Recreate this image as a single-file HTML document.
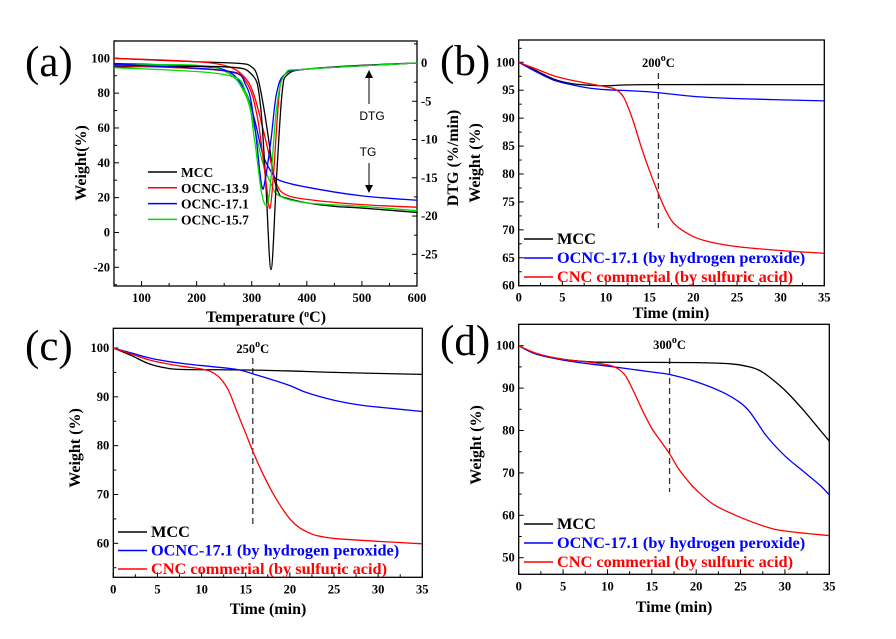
<!DOCTYPE html>
<html><head><meta charset="utf-8">
<style>
html,body{margin:0;padding:0;background:#fff;}
svg{display:block;font-family:"Liberation Serif",serif;}
.tk{font-weight:bold;font-size:12.5px;}
.tt{font-weight:bold;font-size:16px;}
.lg{font-weight:bold;font-size:13.5px;}
.lg2{font-weight:bold;font-size:16.3px;}
.pl{font-size:43px;}
</style></head>
<body>
<svg id="fig" width="896" height="639" viewBox="0 0 896 639" xmlns="http://www.w3.org/2000/svg"></svg>
<script>
// ---- Panel (a) data: temperature (°C) ----
const aMccTgX=[50,200,280,300,310,320,330,340,350,360,400,450,500,600];
const aMccTgY=[100,98,97,95,90,75,55,32,22,20,17,15,14,11.5];
const aR139TgX=[50,200,260,290,305,320,335,345,360,400,500,600];
const aR139TgY=[100,98,95,88,78,60,40,28,22,19,16,14.5];
const aB171TgX=[50,200,260,290,305,320,335,350,400,500,600];
const aB171TgY=[97,95.5,92,80,65,45,35,30,26,21,18.5];
const aG157TgX=[50,200,260,290,305,320,335,350,400,500,600];
const aG157TgY=[96,96,91,78,60,40,28,21,17,15,12.5];
const aMccDtgX=[50,250,300,315,325,335,345,355,365,400,500,600];
const aMccDtgY=[-0.5,-0.5,-1.5,-5,-15,-27,-15,-4,-1.5,-0.8,-0.3,0];
const aR139DtgX=[50,250,290,310,325,333,340,350,360,400,600];
const aR139DtgY=[-0.3,-1,-2.5,-7,-15,-19,-14,-4,-1.5,-0.8,0];
const aB171DtgX=[50,250,290,305,318,325,335,345,360,400,600];
const aB171DtgY=[-0.2,-1,-3,-8,-16,-15,-10,-4,-1.5,-0.8,0];
const aG157DtgX=[50,250,290,305,318,328,335,345,360,400,600];
const aG157DtgY=[-0.6,-1.5,-4,-10,-17,-18.5,-15,-6,-1.5,-0.8,0];
const aXTicks=[100,200,300,400,500,600];
const aYTicks=[-20,0,20,40,60,80,100];
const aY2Ticks=[-25,-20,-15,-10,-5,0];
const aLegend=["MCC","OCNC-13.9","OCNC-17.1","OCNC-15.7"];
// ---- Panel (b) data: time (min) ----
const bMccX=[0,2,4,6,8,10,15,35];
const bMccY=[100,98.5,97,96.2,95.9,95.8,96,96];
const bOcncX=[0,2,4,6,8,10,15,20,25,35];
const bOcncY=[100,98.3,96.8,96,95.4,95.1,94.7,93.9,93.5,93.1];
const bCncX=[0,2,4,6,8,10,11,12,13,14,15,16,17,18,20,22,25,30,35];
const bCncY=[100,98.8,97.6,96.8,96.2,95.6,95.2,93.8,90,85,80.5,76.5,73,70.8,68.8,67.8,67,66.3,65.8];
// ---- Panel (c) ----
const cMccX=[0,2,4,6,8,15,20,25,35];
const cMccY=[100,98.5,96.8,95.9,95.6,95.5,95.3,95,94.6];
const cOcncX=[0,2,4,6,8,10,14,16,18,20,22,25,28,30,35];
const cOcncY=[100,99,98,97.3,96.8,96.4,95.6,94.6,93.5,92.3,90.8,89.3,88.3,87.9,87];
const cCncX=[0,2,4,6,8,10,11,12,13,14,15,16,17,18,19,20,21,22,23,25,30,35];
const cCncY=[100,98.8,97.6,96.8,96.2,95.7,95.2,94,91.5,87,82.5,78,74,70.5,67.5,65,63.3,62.3,61.6,61,60.4,59.9];
// ---- Panel (d) ----
const dMccX=[0,2,5,8,10,20,24,26,27,28,30,32,34,35];
const dMccY=[100,98,96.8,96.2,96.1,96,95.7,95,94.3,93,89.5,85,80,77.5];
const dOcncX=[0,2,5,8,10,15,17,20,23,25,26,27,28,30,32,34,35];
const dOcncY=[100,98,96.6,95.7,95.2,93.8,93.2,91.5,89,86.5,84.5,81.5,78.5,74,70.5,67,64.8];
const dCncX=[0,2,5,8,10,11,12,13,14,15,16,17,18,19,20,22,25,28,30,35];
const dCncY=[100,98.2,96.8,96.1,95.5,94.8,93,89,84.5,80.5,77.5,74.5,71,68.3,66,62.5,59.5,57.2,56.3,55.2];
const timeTicks=[0,5,10,15,20,25,30,35];
const bYTicks=[60,65,70,75,80,85,90,95,100];
const cYTicks=[60,70,80,90,100];
const dYTicks=[50,60,70,80,90,100];
const tLegend=["MCC","OCNC-17.1 (by hydrogen peroxide)","CNC commerial (by sulfuric acid)"];

const svg=document.getElementById('fig');
const NS='http://www.w3.org/2000/svg';
function mk(tag,attrs,parent,text){
  const e=document.createElementNS(NS,tag);
  for(const k in attrs)e.setAttribute(k,attrs[k]);
  if(text!==undefined)e.textContent=text;
  (parent||svg).appendChild(e);return e;
}
function scale(d0,d1,r0,r1){return v=>r0+(v-d0)/(d1-d0)*(r1-r0);}
function smoothPath(xs,ys,sx,sy){
  const p=xs.map((x,i)=>[sx(x),sy(ys[i])]);
  let d='M'+p[0][0].toFixed(2)+','+p[0][1].toFixed(2);
  for(let i=0;i<p.length-1;i++){
    const p0=p[i-1]||p[i],p1=p[i],p2=p[i+1],p3=p[i+2]||p2;
    const c1=[p1[0]+(p2[0]-p0[0])/6,p1[1]+(p2[1]-p0[1])/6];
    const c2=[p2[0]-(p3[0]-p1[0])/6,p2[1]-(p3[1]-p1[1])/6];
    d+=' C'+c1[0].toFixed(2)+','+c1[1].toFixed(2)+' '+c2[0].toFixed(2)+','+c2[1].toFixed(2)+' '+p2[0].toFixed(2)+','+p2[1].toFixed(2);
  }
  return d;
}
function axes(g,L,R,T,B,sx,sy,xt,yt,name){
  const fr=mk('rect',{x:L,y:T,width:R-L,height:B-T,fill:'none',stroke:'#000','stroke-width':1.3},g);
  
  
  const xg=mk('g',{},g);
  
  
  const step=xt[1]-xt[0];
  for(let v=xt[0]-step/2;v<=xt[xt.length-1]+0.001;v+=step/2){
    const x=sx(v); if(x<L-0.5||x>R+0.5)continue;
    const major=xt.some(t=>Math.abs(t-v)<1e-6);
    mk('line',{x1:x,x2:x,y1:B,y2:B-(major?5:3),stroke:'#000','stroke-width':1},xg);
  }
  xt.forEach(v=>{const t=mk('text',{x:sx(v),y:B+16,'text-anchor':'middle',class:'tk'},xg,String(v));
    });
  const yg=mk('g',{},g);
  
  
  const ys=yt[1]-yt[0];
  for(let v=yt[0]-ys;v<=yt[yt.length-1]+ys;v+=ys/2){
    const y=sy(v); if(y<T-0.5||y>B+0.5)continue;
    const major=yt.some(t=>Math.abs(t-v)<1e-6);
    mk('line',{x1:L,x2:L+(major?5:3),y1:y,y2:y,stroke:'#000','stroke-width':1},yg);
  }
  yt.forEach(v=>{const t=mk('text',{x:L-4,y:sy(v)+4,'text-anchor':'end',class:'tk'},yg,String(v));
    });
}
function series(g,xs,ys,sx,sy,color,name,w){
  const p=mk('path',{d:smoothPath(xs,ys,sx,sy),fill:'none',stroke:color,'stroke-width':w||1.3},g);
  
  
}
function legend(g,x,y0,dy,labels,colors,colorText,name,cls){
  labels.forEach((lab,i)=>{
    const y=y0+i*dy;
    const le=mk('g',{},g);
    
    
    mk('line',{x1:x,x2:x+29,y1:y,y2:y,stroke:colors[i],'stroke-width':1.5},le);
    mk('text',{x:x+33,y:y+5,class:cls,fill:colorText?colors[i]:'#000'},le,lab);
  });
}
function label(txt,x,y,name){
  const t=mk('text',{x:x,y:y,class:'pl'},svg,txt);
  
}
function titleX(g,txt,x,y){const t=mk('text',{x:x,y:y,'text-anchor':'middle',class:'tt'},g,'');t.innerHTML=txt;
  }
function titleY(g,txt,x,y){const t=mk('text',{x:0,y:0,'text-anchor':'middle',class:'tt',transform:`translate(${x},${y}) rotate(-90)`},g,txt);
  }
function anno(g,txt,x,y){const t=mk('text',{x:x,y:y,'text-anchor':'middle',class:'tk','font-size':'15px'},g,'');
  t.innerHTML=txt.replace('o','<tspan dy="-6" font-size="10">o</tspan><tspan dy="6">')+'</tspan>';
  }
function dashed(g,x,y1,y2){const l=mk('line',{x1:x,x2:x,y1:y1,y2:y2,stroke:'#333','stroke-width':1.3,'stroke-dasharray':'6,4'},g);
  }

// ===== Panel a =====
{
  const g=mk('g',{});
  const L=114,R=417,T=41,B=286;
  const sx=scale(50,600,L,R), sy=scale(-20,100,267.3,58.3), sy2=scale(-25,0,254.3,63);
  axes(g,L,R,T,B,sx,sy,aXTicks,aYTicks,'panel-a');
  const rg=mk('g',{},g);
  for(let v=-30;v<=2.5;v+=2.5){const y=sy2(v);if(y<T||y>B)continue;
    const major=aY2Ticks.includes(v);mk('line',{x1:R,x2:R-(major?5:3),y1:y,y2:y,stroke:'#000'},rg);}
  aY2Ticks.forEach(v=>mk('text',{x:R+4,y:sy2(v)+4,class:'tk'},rg,String(v)));
  const cols=['#000','#ff0000','#0000ff','#00dd00'];
  series(g,aMccTgX,aMccTgY,sx,sy,cols[0],'mcc-tg-line');
  series(g,aR139TgX,aR139TgY,sx,sy,cols[1],'ocnc139-tg-line');
  series(g,aB171TgX,aB171TgY,sx,sy,cols[2],'ocnc171-tg-line');
  series(g,aG157TgX,aG157TgY,sx,sy,cols[3],'ocnc157-tg-line');
  series(g,aMccDtgX,aMccDtgY,sx,sy2,cols[0],'mcc-dtg-line');
  series(g,aR139DtgX,aR139DtgY,sx,sy2,cols[1],'ocnc139-dtg-line');
  series(g,aB171DtgX,aB171DtgY,sx,sy2,cols[2],'ocnc171-dtg-line');
  series(g,aG157DtgX,aG157DtgY,sx,sy2,cols[3],'ocnc157-dtg-line');
  legend(g,148,172,15.8,aLegend,cols,false,'panel-a','lg');
  mk('text',{x:372,y:120,'text-anchor':'middle','font-family':'Liberation Sans, sans-serif','font-size':'12px'},g,'DTG');
  mk('text',{x:368,y:156,'text-anchor':'middle','font-family':'Liberation Sans, sans-serif','font-size':'12px'},g,'TG');
  mk('line',{x1:369,x2:369,y1:104,y2:75,stroke:'#000'},g);
  mk('path',{d:'M365,78 L369,70 L373,78 Z',fill:'#000'},g);
  mk('line',{x1:369,x2:369,y1:163,y2:188,stroke:'#000'},g);
  mk('path',{d:'M365,185 L369,193 L373,185 Z',fill:'#000'},g);
  titleX(g,'Temperature (<tspan dy="-5" font-size="10">o</tspan><tspan dy="5">C)</tspan>',266,322);
  titleY(g,'Weight(%)',86,163);
  titleY(g,'DTG (%/min)',458,158);
  label('(a)',25,76,'panel-a-label');
}
// ===== Panel b =====
{
  const g=mk('g',{});
  const L=518.7,R=824.3,T=40,B=285.7;
  const sx=scale(0,35,L,R), sy=scale(60,100,B,62.3);
  axes(g,L,R,T,B,sx,sy,timeTicks,bYTicks,'panel-b');
  dashed(g,sx(16),73,228);
  series(g,bMccX,bMccY,sx,sy,'#000','mcc-line');
  series(g,bOcncX,bOcncY,sx,sy,'#0000ff','ocnc-line');
  series(g,bCncX,bCncY,sx,sy,'#ff0000','cnc-line');
  anno(g,'200oC',sx(16),67);
  legend(g,524,239,19,tLegend,['#000','#0000ff','#ff0000'],true,'panel-b','lg2');
  titleX(g,'Time (min)',671,318);
  titleY(g,'Weight (%)',480,163);
  label('(b)',440,75,'panel-b-label');
}
// ===== Panel c =====
{
  const g=mk('g',{});
  const L=113.3,R=422.3,T=328.3,B=577.3;
  const sx=scale(0,35,L,R), sy=scale(60,100,543.3,348);
  axes(g,L,R,T,B,sx,sy,timeTicks,cYTicks,'panel-c');
  dashed(g,sx(15.8),358,528);
  series(g,cMccX,cMccY,sx,sy,'#000','mcc-line');
  series(g,cOcncX,cOcncY,sx,sy,'#0000ff','ocnc-line');
  series(g,cCncX,cCncY,sx,sy,'#ff0000','cnc-line');
  anno(g,'250oC',sx(15.8),353);
  legend(g,118,532,18.5,tLegend,['#000','#0000ff','#ff0000'],true,'panel-c','lg2');
  titleX(g,'Time (min)',268,614);
  titleY(g,'Weight (%)',80,448);
  label('(c)',25,360,'panel-c-label');
}
// ===== Panel d =====
{
  const g=mk('g',{});
  const L=518.7,R=829.3,T=324.3,B=574.3;
  const sx=scale(0,35,L,R), sy=scale(50,100,557.7,345.7);
  axes(g,L,R,T,B,sx,sy,timeTicks,dYTicks,'panel-d');
  dashed(g,sx(17),358,492);
  series(g,dMccX,dMccY,sx,sy,'#000','mcc-line');
  series(g,dOcncX,dOcncY,sx,sy,'#0000ff','ocnc-line');
  series(g,dCncX,dCncY,sx,sy,'#ff0000','cnc-line');
  anno(g,'300oC',sx(17),349);
  legend(g,524,524,19,tLegend,['#000','#0000ff','#ff0000'],true,'panel-d','lg2');
  titleX(g,'Time (min)',674,612);
  titleY(g,'Weight (%)',481,445);
  label('(d)',440,355,'panel-d-label');
}
</script>
</body></html>
